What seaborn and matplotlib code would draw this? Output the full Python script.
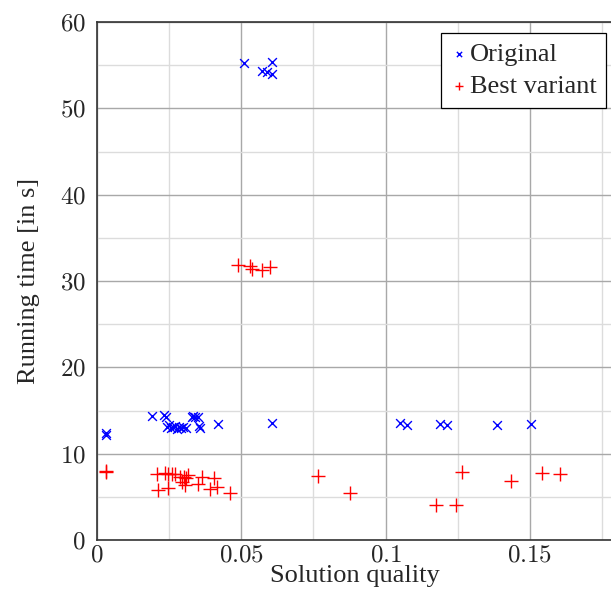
import matplotlib
matplotlib.use("Agg")
import matplotlib.pyplot as plt
from matplotlib.ticker import MultipleLocator, FuncFormatter
import seaborn as sns
import pandas as pd

# Original (blue x)
orig_x = [0.0508, 0.0570, 0.0588, 0.0608, 0.0608,
          0.0030, 0.0031,
          0.0190, 0.0233, 0.0240, 0.0242, 0.0248, 0.0257, 0.0265, 0.0270, 0.0278,
          0.0285, 0.0292, 0.0299, 0.0310,
          0.0330, 0.0333, 0.0340, 0.0350, 0.0352, 0.0358, 0.0418,
          0.0608, 0.1050, 0.1075, 0.1190, 0.1213, 0.1386, 0.1504]
orig_y = [55.2, 54.3, 54.2, 54.0, 55.4,
          12.4, 12.2,
          14.4, 14.5, 14.2, 13.1, 13.3, 13.0, 13.1, 13.2, 12.9,
          13.1, 13.0, 13.1, 13.0,
          14.2, 14.4, 14.2, 14.3, 13.2, 13.0, 13.4,
          13.5, 13.6, 13.3, 13.4, 13.3, 13.3, 13.4]

# Best variant (red +)
best_x = [0.0487, 0.0529, 0.0536, 0.0570, 0.0601,
          0.0030, 0.0031,
          0.0207, 0.0236, 0.0245, 0.0259, 0.0270, 0.0288, 0.0300, 0.0310,
          0.0294, 0.0306, 0.0315, 0.0363, 0.0350, 0.0404,
          0.0212, 0.0245, 0.0392, 0.0415, 0.0462,
          0.0767, 0.0878, 0.1175, 0.1245, 0.1265, 0.1435, 0.1542, 0.1604]
best_y = [31.9, 31.7, 31.4, 31.3, 31.6,
          8.0, 7.9,
          7.6, 7.8, 7.7, 7.6, 7.6, 7.3, 7.3, 7.2,
          6.7, 6.4, 7.5, 7.3, 6.5, 7.2,
          5.8, 6.0, 5.9, 6.1, 5.5,
          7.4, 5.4, 4.1, 4.0, 7.9, 6.8, 7.8, 7.6]

series_names = ["Original", "Best variant"]

sns.set_style("white")
plt.rcParams['font.family'] = ['Liberation Serif', 'DejaVu Serif']
plt.rcParams['mathtext.fontset'] = 'cm'

fig = plt.figure(figsize=(6.11, 5.97), dpi=100)
ax = fig.add_axes([97/611, 57/597, 1 - 97/611 + 0.002, (540-22)/597])

df_o = pd.DataFrame({"x": orig_x, "y": orig_y, "s": series_names[0]})
df_b = pd.DataFrame({"x": best_x, "y": best_y, "s": series_names[1]})

sns.scatterplot(data=df_o, x="x", y="y", marker="x", color="#0000ff", s=40,
                linewidth=1.0, ax=ax, label=series_names[0], zorder=3)
sns.scatterplot(data=df_b, x="x", y="y", marker="+", color="#ff0000", s=90,
                linewidth=1.0, ax=ax, label=series_names[1], zorder=3)

ax.set_xlim(0, 0.1785)
ax.set_ylim(0, 60)
ax.xaxis.set_major_locator(MultipleLocator(0.05))
ax.xaxis.set_minor_locator(MultipleLocator(0.025))
ax.yaxis.set_major_locator(MultipleLocator(10))
ax.yaxis.set_minor_locator(MultipleLocator(5))
fmt = FuncFormatter(lambda v, p: f"${v:g}$")
ax.xaxis.set_major_formatter(fmt)
ax.yaxis.set_major_formatter(fmt)
ax.grid(which='major', color='#a8a8a8', linewidth=1.0, zorder=0)
ax.grid(which='minor', color='#dcdcdc', linewidth=1.0, zorder=0)
ax.set_axisbelow(True)
ax.tick_params(which='major', direction='in', length=6, width=1.0,
               color='#888888', labelsize=18)
ax.tick_params(which='minor', direction='in', length=6, width=1.0,
               color='#bbbbbb')
ax.tick_params(axis='x', which='both', pad=3)
ax.tick_params(axis='y', which='both', right=False, pad=8)

for side in ['left', 'bottom', 'top']:
    ax.spines[side].set_color('#333333')
    ax.spines[side].set_linewidth(1.2)
ax.spines['right'].set_visible(False)

ax.set_xlabel("Solution quality", fontsize=19, labelpad=-1)
ax.set_ylabel("Running time [in s]", fontsize=19, labelpad=14)

leg = ax.legend(loc='upper right', bbox_to_anchor=(0.988, 0.979), fontsize=19,
                frameon=True, fancybox=False, edgecolor='black', framealpha=1,
                markerscale=0.6, handletextpad=0.05, handlelength=0.7,
                borderpad=0.35, labelspacing=0.35, borderaxespad=0)
leg.get_frame().set_linewidth(0.9)

fig.savefig("out.png", dpi=100)
